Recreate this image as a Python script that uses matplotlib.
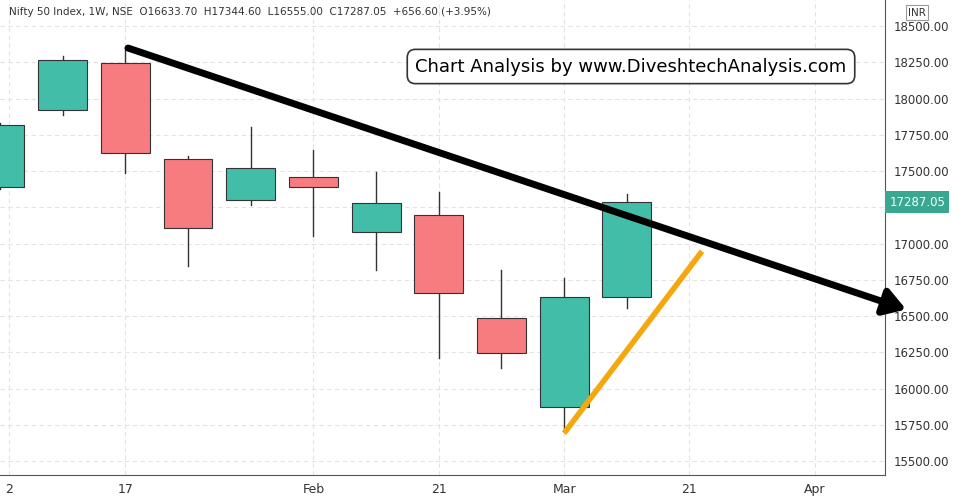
import numpy as np
import matplotlib.pyplot as plt
from matplotlib.patches import Rectangle, FancyArrowPatch

# weekly candles (index 0 = partial candle at left edge)
opens  = [17390, 17921, 18245, 17583, 17300, 17459, 17080, 17197, 16486, 15872, 16633.70]
highs  = [17830, 18293, 18350, 17603, 17803, 17645, 17493, 17355, 16817, 16762, 17344.60]
lows   = [17380, 17886, 17490, 16845, 17265, 17052, 16817, 16210, 16141, 15714, 16555.00]
closes = [17817, 18265, 17624, 17107, 17521, 17390, 17279, 16659, 16245, 16631, 17287.05]

xtick_pos = [0.15, 2, 5, 7, 9, 11, 13]
xtick_labels = ["2", "17", "Feb", "21", "Mar", "21", "Apr"]
yticks = [15500, 15750, 16000, 16250, 16500, 16750, 17000, 17250, 17500, 17750, 18000, 18250, 18500]

trend_x = [2.0, 14.5]
trend_y = [18355, 16540]
support_x = [9.0, 11.2]
support_y = [15693, 16948]

green = "#42bda8"
red = "#f77c80"

fig = plt.figure(figsize=(9.63, 5.01), dpi=100)
ax = fig.add_axes([0, 26 / 501, 885 / 963, 475 / 501])

for i, (o, h, l, c) in enumerate(zip(opens, highs, lows, closes)):
    col = green if c >= o else red
    ax.plot([i, i], [l, h], color="#333333", lw=1, zorder=2)
    ax.add_patch(Rectangle((i - 0.39, min(o, c)), 0.78, abs(c - o),
                           facecolor=col, edgecolor="#333333", lw=0.8, zorder=3))

ax.set_xlim(0, 14.12)
ax.set_ylim(15405, 18680)

# trend lines
ax.add_patch(FancyArrowPatch((trend_x[0], trend_y[0]), (trend_x[1], trend_y[1]),
                             arrowstyle="-|>,head_length=8,head_width=5", mutation_scale=1.6,
                             color="black", lw=5, clip_on=False, zorder=5))
ax.plot(support_x, support_y, color="#f5a80e", lw=4, solid_capstyle="butt", zorder=5)

ax.grid(True, color="#e3e3e3", ls=(0, (4, 3)), lw=0.8)
ax.set_axisbelow(True)
ax.set_xticks(xtick_pos)
ax.set_xticklabels(xtick_labels, fontsize=9, color="#333333")
ax.yaxis.tick_right()
ax.set_yticks(yticks)
# 17250 is hidden behind the last-price label
ax.set_yticklabels(["" if v == 17250 else f"{v:.2f}" for v in yticks], fontsize=8.5, color="#333333")
ax.tick_params(length=0, pad=6)
for s in ["top", "left"]:
    ax.spines[s].set_visible(False)
ax.spines["bottom"].set_color("#555555")
ax.spines["right"].set_color("#555555")

ax.text(0.01, 0.985, "Nifty 50 Index, 1W, NSE  O16633.70  H17344.60  L16555.00  C17287.05  +656.60 (+3.95%)",
        transform=ax.transAxes, fontsize=7.5, color="#333333", va="top")
ax.text(0.713, 0.86, "Chart Analysis by www.DiveshtechAnalysis.com", transform=ax.transAxes,
        fontsize=13, ha="center", va="center",
        bbox=dict(boxstyle="round,pad=0.45", fc="white", ec="#333333", lw=1.2))
ax.text(1.005, closes[-1], "17287.05", transform=ax.get_yaxis_transform(), fontsize=8.5,
        color="white", va="center", ha="left",
        bbox=dict(boxstyle="square,pad=0.35", fc="#3aa890", ec="none"))
fig.text(0.952, 0.975, "INR", fontsize=7.5, color="#333333", va="center", ha="center",
         bbox=dict(boxstyle="square,pad=0.2", fc="white", ec="#999999", lw=0.8))

fig.savefig("out.png", dpi=100)
